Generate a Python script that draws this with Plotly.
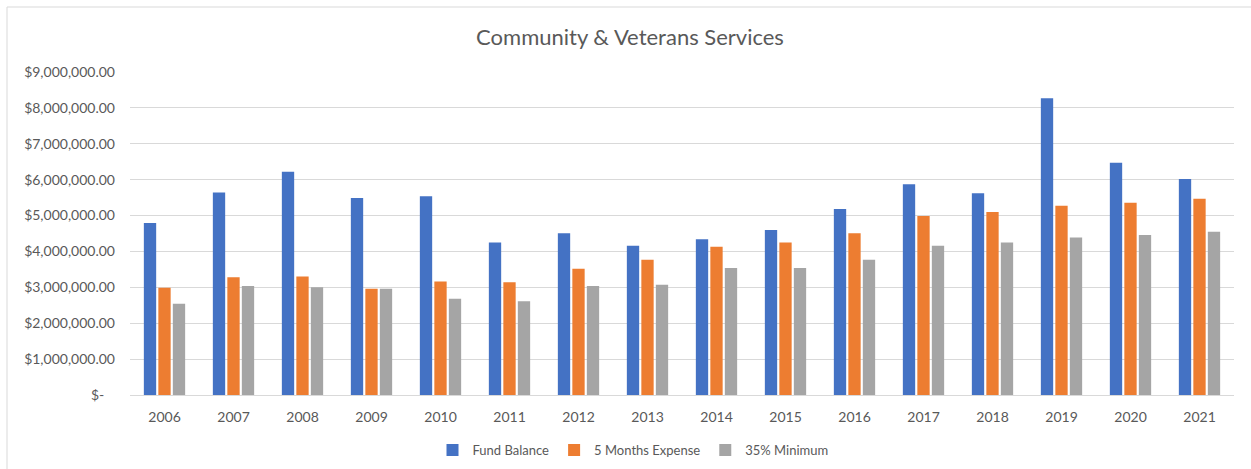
import plotly.graph_objects as go

# Annual figures for the Community & Veterans Services fund
years = ["2006", "2007", "2008", "2009", "2010", "2011", "2012", "2013",
         "2014", "2015", "2016", "2017", "2018", "2019", "2020", "2021"]
fund_balance = [4790000, 5640000, 6220000, 5490000, 5540000, 4250000, 4510000, 4160000,
                4340000, 4600000, 5180000, 5870000, 5620000, 8270000, 6470000, 6020000]
five_months_expense = [2990000, 3280000, 3300000, 2960000, 3160000, 3140000, 3520000, 3770000,
                       4130000, 4250000, 4510000, 4990000, 5100000, 5270000, 5360000, 5470000]
minimum_35pct = [2540000, 3040000, 3000000, 2960000, 2680000, 2610000, 3040000, 3070000,
                 3540000, 3540000, 3770000, 4160000, 4250000, 4390000, 4460000, 4550000]

series_names = ["Fund Balance", "5 Months Expense", "35% Minimum"]
series_colors = ["#4472C4", "#ED7D31", "#A5A5A5"]
y_ticks = [0, 1000000, 2000000, 3000000, 4000000, 5000000, 6000000, 7000000, 8000000, 9000000]


def money(v):
    # accounting-style label: zero shows as a dash
    return "$-\u00a0\u00a0\u00a0" if v == 0 else "${:,.2f}".format(v)


FONT = "Lato"
TEXT = "#595959"
GRID = "#D9D9D9"

fig = go.Figure()
for name, vals, col in zip(series_names, [fund_balance, five_months_expense, minimum_35pct], series_colors):
    fig.add_trace(go.Bar(name=name, x=years, y=vals, marker=dict(color=col, line=dict(width=0))))

W, H = 1251, 469
L, R, T, B = 130, 17, 72, 74
pw, ph = W - L - R, H - T - B

fig.update_layout(
    width=W, height=H,
    margin=dict(l=L, r=R, t=T, b=B, autoexpand=False),
    paper_bgcolor="white", plot_bgcolor="white",
    barmode="group", bargap=0.37, bargroupgap=0.15,
    font=dict(family=FONT, size=14, color=TEXT),
    title=dict(text="Community & Veterans Services", x=630 / W, xref="container", xanchor="center",
               y=1 - 37 / H, yref="container", yanchor="middle",
               font=dict(family=FONT, size=22, color=TEXT)),
    xaxis=dict(showgrid=False, showline=False, ticks="", ticklabelstandoff=12,
               tickfont=dict(size=14, color=TEXT)),
    yaxis=dict(range=[0, 9000000], tickvals=y_ticks, ticktext=[money(v) for v in y_ticks],
               showgrid=True, gridcolor=GRID, gridwidth=1, zeroline=True, zerolinecolor=GRID,
               zerolinewidth=1, showline=False, ticks="", ticklabelstandoff=14,
               tickfont=dict(size=14, color=TEXT)),
    legend=dict(orientation="h", x=633 / W, xref="container", xanchor="center",
                y=1 - 450 / H, yref="container", yanchor="middle",
                font=dict(size=13, color=TEXT), itemwidth=30, traceorder="normal"),
    showlegend=True,
)

# light frame along the top and left of the chart area
fig.add_shape(type="rect", xref="paper", yref="paper",
              x0=(7 - L) / pw, x1=(W + 20 - L) / pw, y0=(395 - (H + 20)) / ph, y1=(395 - 7) / ph,
              line=dict(color=GRID, width=1), fillcolor="rgba(0,0,0,0)", layer="below")

fig.write_html("out.html")
